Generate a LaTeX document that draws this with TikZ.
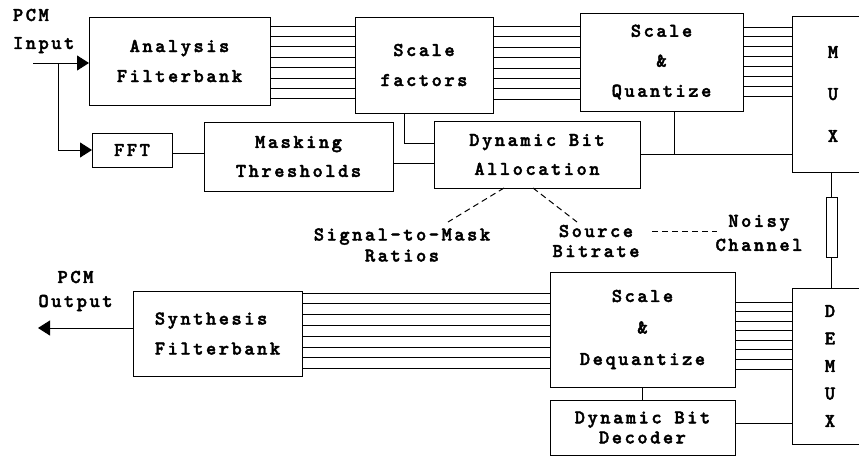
\documentclass[tikz,border=0pt]{standalone}
\usepackage{fontspec}
\newfontfamily\cour{lmmonolt10-bold}[Extension=.otf,LetterSpace=13,FakeBold=2.2]
\usetikzlibrary{arrows.meta,calc}
\begin{document}
\begin{tikzpicture}[x=1pt,y=-1pt,line width=1pt,
  box/.style={draw,inner sep=0pt,outer sep=0pt,align=center,
    font=\cour\fontsize{19.5}{30}\selectfont},
  lbl/.style={inner sep=0pt,outer sep=0pt,align=center,
    font=\cour\fontsize{19.5}{21}\selectfont},
  bus/.style={line width=0.9pt},
  dsh/.style={dash pattern=on 6pt off 4pt},
  arr/.style={-{Triangle[length=12pt,width=15pt]}}]
\useasboundingbox (0,0) rectangle (859,456);

% boxes
\node[box,minimum width=181pt,minimum height=88pt] (AF) at (179.5,61) {Analysis\\Filterbank};
\node[box,minimum width=138pt,minimum height=96pt] (SF) at (424,65) {Scale\\factors};
\node[box,minimum width=163pt,minimum height=98pt] (SQ) at (661.5,62) {Scale\\\&\\Quantize};
\node[box,minimum width=82pt,minimum height=156pt,font=\cour\fontsize{19.5}{42}\selectfont] (MUX) at (833,94) {M\\U\\X};
\node[box,minimum width=80pt,minimum height=34pt] (FFT) at (132,150) {FFT};
\node[box,minimum width=189pt,minimum height=69pt,font=\cour\fontsize{19.5}{29}\selectfont] (MT) at (298.5,156.5) {Masking\\Thresholds};
\node[box,minimum width=206pt,minimum height=67pt,font=\cour\fontsize{19.5}{29}\selectfont] (DBA) at (537,154.5) {Dynamic Bit\\Allocation};
\node[box,minimum width=11pt,minimum height=60pt] (CH) at (831.5,227) {};
\node[box,minimum width=76pt,minimum height=156pt,font=\cour\fontsize{19.5}{27.5}\selectfont] (DEMUX) at (830,366) {D\\E\\M\\U\\X};
\node[box,minimum width=185pt,minimum height=115pt,font=\cour\fontsize{19.5}{31.5}\selectfont] (SD) at (642.5,329.5) {Scale\\\&\\Dequantize};
\node[box,minimum width=185pt,minimum height=55pt,font=\cour\fontsize{19.5}{20}\selectfont] (DBD) at (642.5,427.5) {Dynamic Bit\\Decoder};
\node[box,minimum width=169pt,minimum height=85pt,align=left] (SYN) at (217.5,333.5) {Synthesis\\Filterbank};

% labels
\node[lbl,align=left,anchor=west,font=\cour\fontsize{19.5}{28}\selectfont] (PIN) at (13,31) {PCM\\Input};
\node[lbl,font=\cour\fontsize{19.5}{24}\selectfont] (POUT) at (75.5,291) {PCM\\Output};
\node[lbl] (SMR) at (402,245) {Signal-to-Mask\\Ratios};
\node[lbl,font=\cour\fontsize{19.5}{20}\selectfont] (SB) at (596,241) {Source\\Bitrate};
\node[lbl,font=\cour\fontsize{19.5}{24}\selectfont] (NC) at (759,233) {Noisy\\Channel};

% buses
\foreach \i in {0,...,7} {
  \coordinate (t) at (0,{26+\i*10.4});
  \draw[bus] (AF.east |- t) -- (SF.west |- t);
  \coordinate (t) at (0,{26.5+\i*10.4});
  \draw[bus] (SF.east |- t) -- (SQ.west |- t);
  \coordinate (t) at (0,{27+\i*9.86});
  \draw[bus] (SQ.east |- t) -- (MUX.west |- t);
  \coordinate (t) at (0,{302+\i*9.57});
  \draw[bus] (SD.east |- t) -- (DEMUX.west |- t);
  \coordinate (t) at (0,{293+\i*10.8});
  \draw[bus] (SYN.east |- t) -- (SD.west |- t);
}

% input / output
\coordinate (inS) at (33,63);
\coordinate (br) at (58,63);
\draw[arr] (inS) -- (AF.west |- inS);
\draw[arr] (br) |- (FFT.west);
\coordinate (outE) at (38,328);
\draw[arr] (SYN.west |- outE) -- (outE);

% connections
\coordinate (y153) at (0,153);
\coordinate (y163) at (0,163);
\draw (FFT.east |- y153) -- (MT.west |- y153);
\draw (MT.east |- y163) -- (DBA.west |- y163);
\coordinate (x404) at (404,143);
\draw (SF.south -| x404) |- (DBA.west |- x404);
\coordinate (x674) at (674,0);
\draw (SQ.south -| x674) -- (x674 |- DBA.east);
\draw (DBA.east) -- (MUX.west |- DBA.east);
\draw (MUX.south -| CH.north) -- (CH.north);
\draw (CH.south) -- (DEMUX.north -| CH.south);
\draw (SD.south) -- (DBD.north);
\coordinate (y423) at (0,423);
\draw (DBD.east |- y423) -- (DEMUX.west |- y423);

% dashed
\coordinate (d1) at (448,222);
\coordinate (x504) at (504,0);
\draw[dsh] (DBA.south -| x504) -- (d1);
\coordinate (d2) at (577,222);
\coordinate (x533) at (533,0);
\draw[dsh] (DBA.south -| x533) -- (d2);
\coordinate (n1) at (652,231);
\coordinate (n2) at (717,231);
\draw[dsh] (n1) -- (n2);
\end{tikzpicture}
\end{document}
